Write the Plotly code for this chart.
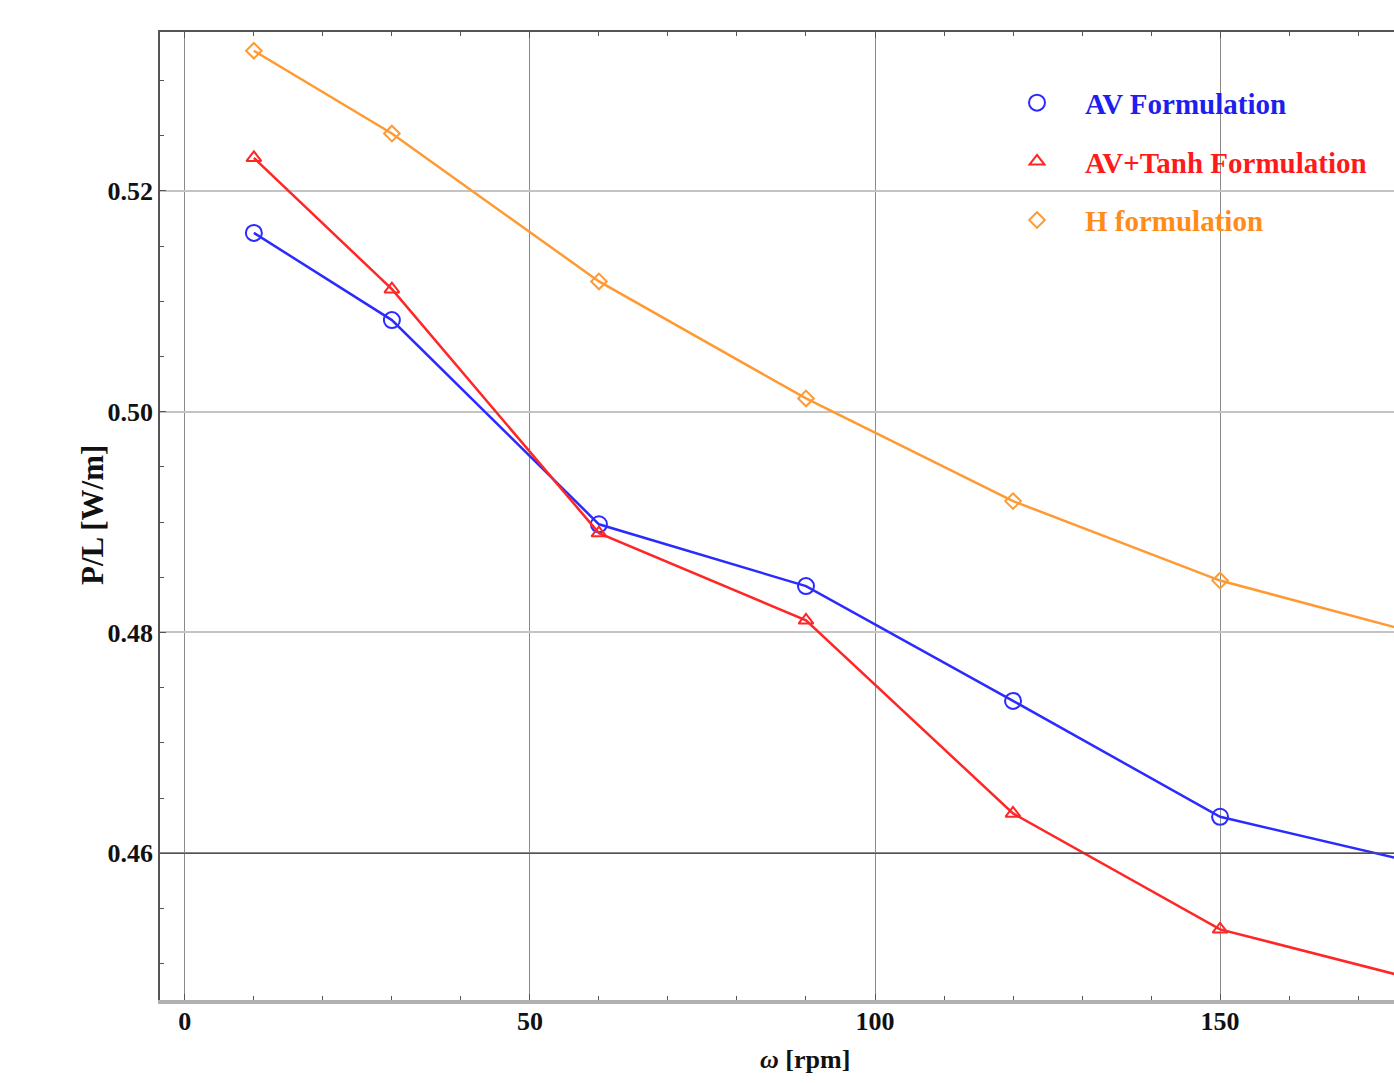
import plotly.graph_objects as go

omega = [10, 30, 60, 90, 120, 150, 180]
av = [0.5162, 0.5083, 0.4898, 0.4842, 0.4738, 0.4633, 0.4589]
av_tanh = [0.5230, 0.5111, 0.4890, 0.4811, 0.4636, 0.4531, 0.4483]
h_form = [0.5327, 0.5252, 0.5118, 0.5012, 0.4919, 0.4847, 0.4797]

names = ["AV Formulation", "AV+Tanh Formulation", "H formulation"]
colors = ["#2b2bff", "#ff2626", "#ff9a33"]
text_colors = ["#1e1eee", "#ff1a1a", "#ff8c1a"]
symbols = ["circle-open", "triangle-up-open", "diamond-open"]
sizes = [16, 13, 12]
series = [av, av_tanh, h_form]

fig = go.Figure()
fig.add_shape(type="line", xref="paper", x0=0, x1=1, yref="y", y0=0.46, y1=0.46,
              line=dict(color="#505050", width=1.5), layer="above")

for ys, c, s, sz in zip(series, colors, symbols, sizes):
    fig.add_trace(go.Scatter(
        x=omega, y=ys, mode="lines+markers", showlegend=False,
        line=dict(color=c, width=2.5),
        marker=dict(symbol=s, size=sz, color=c, line=dict(width=2, color=c)),
    ))

for i, (n, c, tc, s, sz) in enumerate(zip(names, colors, text_colors, symbols, sizes)):
    fig.add_trace(go.Scatter(
        x=[None], y=[None], mode="markers", legendgroup=f"g{i}",
        name=f"<span style='color:{tc}'>{n}</span>",
        marker=dict(symbol=s, size=sz, color=c, line=dict(width=2, color=c)),
    ))

serif = "Liberation Serif"
fig.add_annotation(xref="paper", yref="paper", x=0.5227, y=-0.0788, xanchor="center", yanchor="bottom",
                   text="<i>ω</i> [rpm]", showarrow=False,
                   font=dict(family=serif, size=26, weight="bold", color="#111111"))
fig.add_annotation(xref="paper", yref="paper", x=-0.0551, y=0.501, xanchor="center", yanchor="middle",
                   text="P/L [W/m]", showarrow=False, textangle=-90,
                   font=dict(family=serif, size=31, weight="bold", color="#111111"))

fig.update_layout(
    width=1394, height=1083,
    margin=dict(l=160, r=0, t=32, b=83),
    paper_bgcolor="white", plot_bgcolor="white",
    font=dict(family=serif, size=22, color="#111111"),
    legend=dict(x=0.6718, y=0.9532, xanchor="left", yanchor="top",
                font=dict(family=serif, size=29, weight="bold"),
                bgcolor="rgba(0,0,0,0)", tracegroupgap=18, itemwidth=86),
    xaxis=dict(range=[-3.6, 175.2], dtick=50, tick0=0,
               showgrid=True, gridcolor="#8a8a8a", gridwidth=1,
               zeroline=False, showline=True, linecolor="#b0b0b0", linewidth=4,
               mirror=False, ticks="inside", ticklen=6, tickcolor="#555555",
               minor=dict(dtick=10, ticks="inside", ticklen=4, tickcolor="#555555", showgrid=False),
               ticklabelstandoff=-5,
               tickfont=dict(family=serif, size=26, weight="bold")),
    xaxis2=dict(overlaying="x", side="top", matches="x", range=[-3.6, 175.2], dtick=50, tick0=0,
                showgrid=False, zeroline=False, showline=True, linecolor="#555555", linewidth=2,
                ticks="inside", ticklen=6, tickcolor="#555555", showticklabels=False,
                minor=dict(dtick=10, ticks="inside", ticklen=4, tickcolor="#555555")),
    yaxis=dict(range=[0.4467, 0.5344], dtick=0.02, tick0=0.46, tickformat=".2f",
               showgrid=True, gridcolor="#c4c4c4", gridwidth=2,
               zeroline=False, showline=True, linecolor="#555555", linewidth=1.5,
               mirror=False, ticks="inside", ticklen=6, tickcolor="#555555",
               minor=dict(dtick=0.005, ticks="inside", ticklen=4, tickcolor="#555555", showgrid=False),
               tickfont=dict(family=serif, size=26, weight="bold")),
)
fig.add_trace(go.Scatter(x=[None], y=[None], xaxis="x2", showlegend=False))

fig.write_html("out.html", config={"displayModeBar": False},
               post_script="document.body.style.margin='0';")
